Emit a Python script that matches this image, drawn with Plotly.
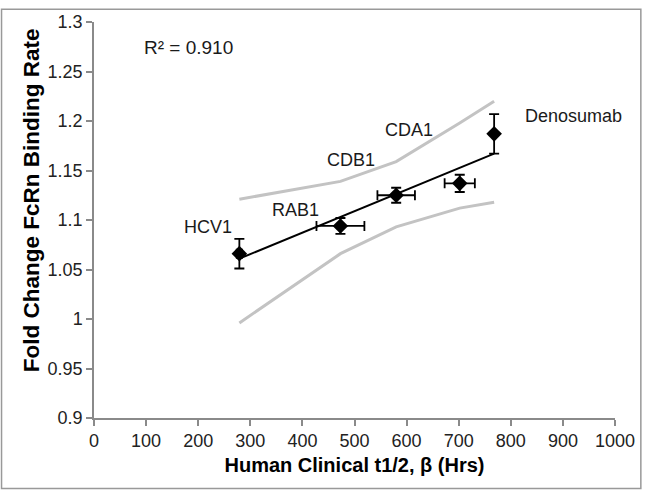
import plotly.graph_objects as go

# Data
antibodies = ["HCV1", "RAB1", "CDB1", "CDA1", "Denosumab"]
half_life_hrs = [279, 473, 580, 702, 768]
half_life_err = [5, 46, 36, 29, 0]
fold_change = [1.066, 1.094, 1.125, 1.137, 1.187]
fold_change_err = [0.015, 0.008, 0.0076, 0.0087, 0.020]

fit_x = [279, 768]
fit_y = [1.061, 1.167]

band_x = [279, 473, 580, 702, 768]
band_upper = [1.121, 1.139, 1.159, 1.198, 1.220]
band_lower = [0.996, 1.066, 1.093, 1.112, 1.118]

x_ticks = [0, 100, 200, 300, 400, 500, 600, 700, 800, 900, 1000]
y_ticks = [0.9, 0.95, 1, 1.05, 1.1, 1.15, 1.2, 1.25, 1.3]
y_tick_text = ["0.9", "0.95", "1", "1.05", "1.1", "1.15", "1.2", "1.25", "1.3"]

label_pos_x = [218, 387, 493, 605, 921]
label_pos_y = [1.093, 1.110, 1.161, 1.191, 1.205]
r2_text = "R² = 0.910"
x_title = "<b>Human Clinical t1/2, β (Hrs)</b>"
y_title = "<b>Fold Change FcRn Binding Rate</b>"

FONT = "Arial, 'Liberation Sans', Helvetica, sans-serif"
AX = "#8a8a8a"

fig = go.Figure()

fig.add_trace(go.Scatter(x=band_x, y=band_upper, mode="lines",
                         line=dict(color="#c3c3c3", width=3), hoverinfo="skip"))
fig.add_trace(go.Scatter(x=band_x, y=band_lower, mode="lines",
                         line=dict(color="#c3c3c3", width=3), hoverinfo="skip"))
fig.add_trace(go.Scatter(x=fit_x, y=fit_y, mode="lines",
                         line=dict(color="black", width=2), hoverinfo="skip"))
fig.add_trace(go.Scatter(
    x=half_life_hrs, y=fold_change, mode="markers",
    marker=dict(symbol="diamond", size=12, color="black"),
    error_x=dict(type="data", array=half_life_err, color="black", thickness=1.8, width=5),
    error_y=dict(type="data", array=fold_change_err, color="black", thickness=1.8, width=5),
    text=antibodies,
))

annotations = [
    dict(x=lx, y=ly, text=t, showarrow=False, xref="x", yref="y",
         font=dict(family=FONT, size=18, color="#1a1a1a"))
    for t, lx, ly in zip(antibodies, label_pos_x, label_pos_y)
]
annotations.append(dict(x=181, y=1.274, text=r2_text, showarrow=False, xref="x", yref="y",
                        font=dict(family=FONT, size=19, color="#1a1a1a")))
annotations.append(dict(x=(16 - 94) / 524, y=(418 - 196) / 404, xref="paper", yref="paper",
                        text=y_title, textangle=-90, showarrow=False,
                        font=dict(family=FONT, size=22.5, color="black")))

fig.update_layout(
    width=647, height=492,
    margin=dict(l=94, r=29, t=14, b=74),
    paper_bgcolor="white", plot_bgcolor="white",
    showlegend=False,
    font=dict(family=FONT, size=18, color="#222"),
    annotations=annotations,
    shapes=[dict(type="rect", xref="paper", yref="paper",
                 x0=(1 - 94) / 524, x1=(644 - 94) / 524,
                 y0=(418 - 490) / 404, y1=(418 - 1) / 404,
                 line=dict(color="#999999", width=1.5), layer="below")],
)

fig.update_xaxes(
    range=[0, 1000], tickvals=x_ticks, showgrid=False, zeroline=False,
    showline=True, linecolor=AX, linewidth=1.5,
    ticks="outside", ticklen=6, tickcolor=AX, tickwidth=1.5,
    tickfont=dict(family=FONT, size=18, color="#222"),
    title=dict(text=x_title, standoff=8,
               font=dict(family=FONT, size=20, color="black")),
)
fig.update_yaxes(
    range=[0.9, 1.3], tickvals=y_ticks, ticktext=y_tick_text, showgrid=False, zeroline=False,
    showline=True, linecolor=AX, linewidth=1.5,
    ticks="outside", ticklen=6, tickcolor=AX, tickwidth=1.5,
    tickfont=dict(family=FONT, size=18, color="#222"),
)

fig.write_html("out.html", config={"displayModeBar": False},
               post_script="document.body.style.margin='0';document.body.style.overflow='hidden';")
